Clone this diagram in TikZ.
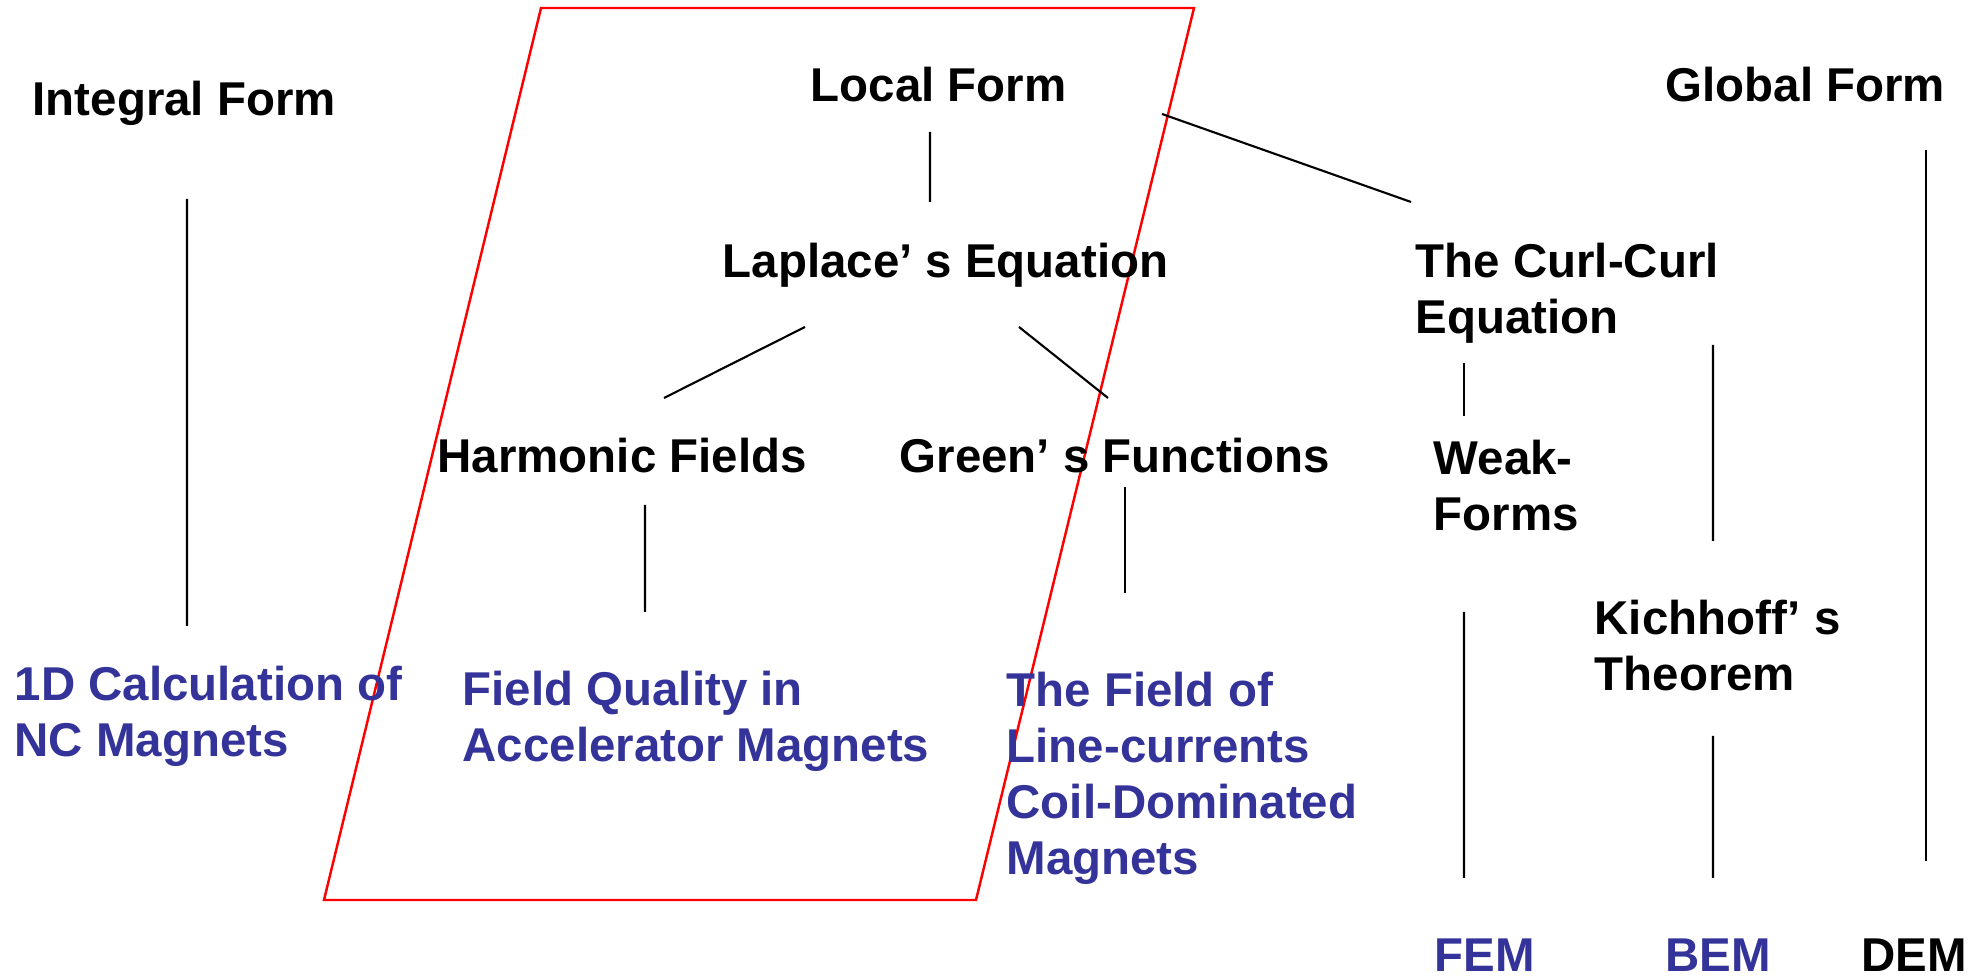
\documentclass[tikz,border=0pt]{standalone}
\usepackage{fontspec}
\setmainfont{Liberation Sans}
\definecolor{magblue}{RGB}{51,51,153}
\newcommand{\link}[4]{\draw[conn] ([shift={#2}]#1.base west) -- ([shift={#4}]#3.base west);}

\begin{document}
\begin{tikzpicture}[txt/.style = {anchor = base west, inner sep = 0pt, align = left, font = \fontsize{13.5}{16}\selectfont\bfseries},
  conn/.style = {line width = 0.6pt}]
\useasboundingbox (0,0) rectangle (19.83,-9.77);
\draw[red, line width = 0.7pt] (5.41,-0.08) -- (11.94,-0.08) -- (9.76,-9.00) -- (3.24,-9.00) -- cycle;
% top row (multi-line nodes sit on their last line)
\node[txt] (intf) at (0.32,-1.16) {Integral Form};
\node[txt] (locf) at (8.10,-1.02) {Local Form};
\node[txt] (globf) at (16.65,-1.02) {Global Form};
\node[txt] (lap) at (7.22,-2.78) {Laplace’ s Equation};
\node[txt] (curl) at (14.15,-3.34) {The Curl-Curl\\Equation};
\node[txt] (harm) at (4.37,-4.73) {Harmonic Fields};
\node[txt] (green) at (8.99,-4.73) {Green’ s Functions};
\node[txt] (weak) at (14.33,-5.31) {Weak-\\Forms};
\node[txt] (kich) at (15.94,-6.91) {Kichhoff’ s\\Theorem};
% lectures
\node[txt, magblue] (calc) at (0.14,-7.57) {1D Calculation of\\NC Magnets};
\node[txt, magblue] (fq) at (4.62,-7.62) {Field Quality in\\Accelerator Magnets};
\node[txt, magblue] (lc) at (10.06,-8.75) {The Field of\\Line-currents\\Coil-Dominated\\Magnets};
\node[txt, magblue] (fem) at (14.34,-9.72) {FEM};
\node[txt, magblue] (bem) at (16.65,-9.72) {BEM};
\node[txt] (dem) at (18.61,-9.72) {DEM};
% connectors
\link{intf}{(1.55,-0.83)}{calc}{(1.73,1.31)}
\link{locf}{(1.20,-0.30)}{lap}{(2.08,0.76)}
\link{locf}{(3.52,-0.12)}{curl}{(-0.04,1.32)}
\link{lap}{(0.83,-0.49)}{harm}{(2.27,0.75)}
\link{lap}{(2.97,-0.49)}{green}{(2.09,0.75)}
\link{harm}{(2.08,-0.32)}{fq}{(1.83,1.50)}
\link{green}{(2.26,-0.14)}{lc}{(1.19,2.82)}
\link{curl}{(0.49,-0.29)}{weak}{(0.31,1.15)}
\link{curl}{(2.98,-0.11)}{kich}{(1.19,1.50)}
\link{weak}{(0.31,-0.81)}{fem}{(0.30,0.94)}
\link{kich}{(1.19,-0.45)}{bem}{(0.48,0.94)}
\link{globf}{(2.61,-0.48)}{dem}{(0.65,1.11)}
\end{tikzpicture}
\end{document}
